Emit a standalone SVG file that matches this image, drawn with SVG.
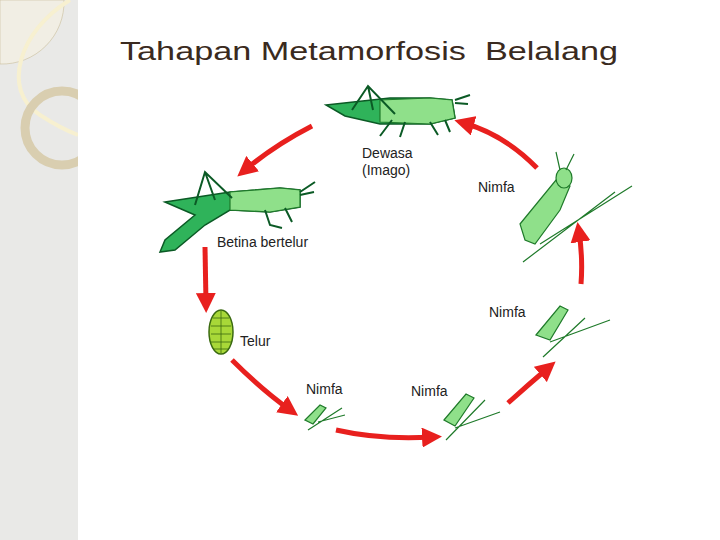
<svg xmlns="http://www.w3.org/2000/svg" width="720" height="540" viewBox="0 0 720 540">
<defs>
<marker id="ah" markerWidth="4" markerHeight="4" refX="2" refY="2" orient="auto" markerUnits="strokeWidth"><path d="M0,0 L4,2 L0,4 z" fill="#e8201e"/></marker>
<style>
.arr{fill:none;stroke:#e8201e;stroke-width:5;marker-end:url(#ah)}
.lbl{font-family:"Liberation Sans",Arial,sans-serif;font-size:14px;fill:#222}
.dk{fill:#2fb35a;stroke:#0b5a25;stroke-width:1.5}
.lt{fill:#8fe08a;stroke:#1f7a2a;stroke-width:1.2}
.leg{fill:none;stroke:#0b5a25;stroke-width:2}
.grass{fill:none;stroke:#1f7a2a;stroke-width:1.2}
</style>
</defs>
<rect width="720" height="540" fill="#fff"/>
<rect width="78" height="540" fill="#e9e9e7"/>
<path d="M0,0 H64 A62,62 0 0 1 0,64 Z" fill="#f1eee4" stroke="#c9bd9b" stroke-width="0.6"/>
<path d="M70,0 C20,30 0,90 40,115 C60,128 70,132 78,135" fill="none" stroke="#f7f0d0" stroke-width="4"/>
<circle cx="62" cy="128" r="37" fill="none" stroke="#d9ceb0" stroke-width="9"/>
<rect x="78" width="642" height="540" fill="#fff"/>
<text x="120" y="60" font-family="Liberation Sans,Arial,sans-serif" font-size="26" fill="#3a2a20" textLength="498" lengthAdjust="spacingAndGlyphs" xml:space="preserve">Tahapan Metamorfosis  Belalang</text>
<g id="connectors">
<path class="arr" d="M312,126 Q275,145 245,170"/>
<path class="arr" d="M205,247 L206,303"/>
<path class="arr" d="M232,360 Q262,390 290,410"/>
<path class="arr" d="M336,430 Q380,440 432,437"/>
<path class="arr" d="M508,403 Q528,385 548,368"/>
<path class="arr" d="M581,284 Q583,258 579,232"/>
<path class="arr" d="M537,168 Q505,135 464,123"/>
</g>
<g id="adult">
<path class="dk" d="M326,105 L390,98 L430,98 L452,100 L455,118 L430,124 L380,124 L345,116 Z"/>
<path class="lt" d="M380,100 L430,98 L452,100 L455,118 L430,124 L380,122 Z"/>
<path class="leg" d="M352,110 L368,86 L395,114 M368,86 L373,110 M392,120 L380,136 M405,122 L400,137 M430,122 L438,135 M445,120 L450,132 M455,100 L470,95 M455,103 L468,104"/>
<text class="lbl" x="362" y="158">Dewasa</text>
<text class="lbl" x="362" y="175">(Imago)</text>
</g>
<g id="female">
<path class="dk" d="M165,202 L230,192 L280,188 L300,190 L300,207 L270,212 L230,210 L205,225 L175,250 L160,252 L165,240 L195,215 Z"/>
<path class="lt" d="M230,192 L280,188 L300,190 L300,207 L270,212 L230,210 Z"/>
<path class="leg" d="M195,205 L205,172 L232,198 M205,172 L215,200 M265,210 L270,225 L282,228 M285,208 L292,222 M300,192 L315,182 M300,195 L314,192"/>
<text class="lbl" x="217" y="247">Betina bertelur</text>
</g>
<g id="eggs">
<ellipse cx="221" cy="332" rx="12" ry="22" fill="#a8d838" stroke="#3a6a10" stroke-width="1.5"/>
<path d="M213,318 h16 M211,326 h20 M211,334 h20 M211,342 h20 M213,349 h16 M221,311 v42" stroke="#3a6a10" stroke-width="0.8"/>
<text class="lbl" x="240" y="346">Telur</text>
</g>
<g id="nymph1">
<path class="lt" d="M305,420 L320,405 L326,408 L313,424 Z"/>
<path class="grass" d="M308,430 L342,408 M318,422 L345,415"/>
<text class="lbl" x="306" y="394">Nimfa</text>
</g>
<g id="nymph2">
<path class="lt" d="M444,420 L466,394 L474,398 L455,426 Z"/>
<path class="grass" d="M446,440 L485,400 M455,428 L500,412"/>
<text class="lbl" x="411" y="396">Nimfa</text>
</g>
<g id="nymph3">
<path class="lt" d="M536,335 L560,306 L568,310 L550,340 Z"/>
<path class="grass" d="M543,357 L585,318 M550,342 L610,320"/>
<text class="lbl" x="489" y="317">Nimfa</text>
</g>
<g id="nymph4">
<path class="lt" d="M520,224 L556,180 L570,186 L560,210 L535,244 L525,240 Z"/>
<ellipse cx="564" cy="178" rx="8" ry="10" class="lt"/>
<path class="grass" d="M523,262 L615,192 M540,244 L632,186 M560,170 L556,152 M566,170 L574,154"/>
<text class="lbl" x="478" y="192">Nimfa</text>
</g>
</svg>
